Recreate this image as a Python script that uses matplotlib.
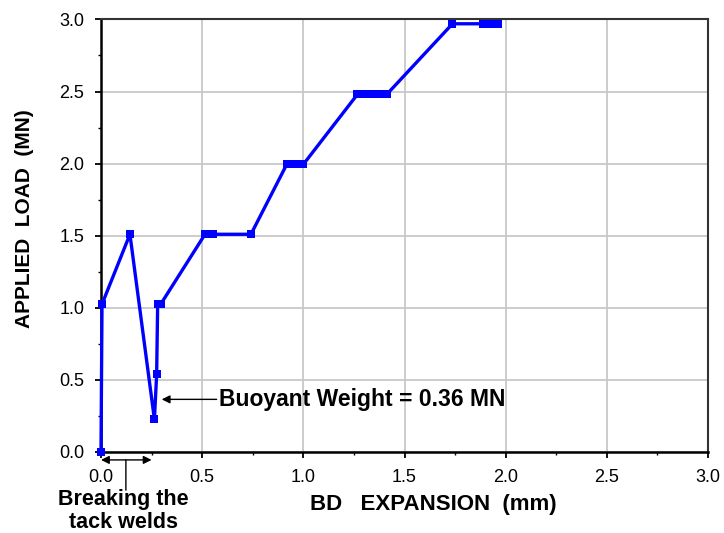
import matplotlib.pyplot as plt
from matplotlib.ticker import MultipleLocator

# BD expansion (mm) vs applied load (MN)
expansion = [0.0, 0.005, 0.143, 0.264, 0.275, 0.28, 0.295,
             0.514, 0.535, 0.555, 0.741,
             0.918, 0.945, 0.97, 1.0,
             1.267, 1.30, 1.33, 1.36, 1.39, 1.412,
             1.737, 1.89, 1.92, 1.964]
load = [0.0, 1.025, 1.51, 0.226, 0.538, 1.025, 1.025,
        1.51, 1.51, 1.51, 1.51,
        1.995, 1.995, 1.995, 1.995,
        2.48, 2.48, 2.48, 2.48, 2.48, 2.48,
        2.97, 2.97, 2.97, 2.97]

plt.rcParams['font.family'] = ['Liberation Sans', 'DejaVu Sans']

fig = plt.figure(figsize=(7.24, 5.33), dpi=100)
ax = fig.add_axes([0.1395, 0.152, 0.8385, 0.8115])

ax.plot(expansion, load, color='#0000FF', lw=2.4, marker='s', ms=6,
        markeredgewidth=0, clip_on=False, zorder=3)

ax.set_xlim(0, 3.0)
ax.set_ylim(0, 3.0)
ax.xaxis.set_major_locator(MultipleLocator(0.5))
ax.yaxis.set_major_locator(MultipleLocator(0.5))
ax.xaxis.set_minor_locator(MultipleLocator(0.25))
ax.yaxis.set_minor_locator(MultipleLocator(0.25))
ax.xaxis.set_major_formatter(plt.FormatStrFormatter('%.1f'))
ax.yaxis.set_major_formatter(plt.FormatStrFormatter('%.1f'))
ax.grid(True, which='major', color='#c8c8c8', lw=1.3)
ax.set_axisbelow(True)
ax.tick_params(which='major', direction='out', length=4, width=1.3, labelsize=13, pad=8)
ax.tick_params(which='minor', direction='out', length=2.5, width=1.0)

for s in ['left', 'bottom']:
    ax.spines[s].set_linewidth(1.8)
    ax.spines[s].set_color('black')
for s in ['top', 'right']:
    ax.spines[s].set_linewidth(1.5)
    ax.spines[s].set_color('#333333')

ax.set_xlabel('BD   EXPANSION  (mm)', fontsize=16, fontweight='bold')
ax.set_ylabel('APPLIED  LOAD  (MN)', fontsize=15, fontweight='bold')
ax.xaxis.set_label_coords(0.547, -0.097)
ax.yaxis.set_label_coords(-0.110, 0.54)

# buoyant weight note
ax.annotate('Buoyant Weight = 0.36 MN', xy=(0.30, 0.365), xytext=(0.585, 0.365),
            fontsize=16.5, fontweight='bold', va='center', ha='left',
            arrowprops=dict(arrowstyle='-|>', color='black', lw=1.0,
                            mutation_scale=12, shrinkA=0, shrinkB=0))

# tack welds note, below the axis
ax.annotate('', xy=(0.0, -0.055), xytext=(0.25, -0.055), annotation_clip=False,
            arrowprops=dict(arrowstyle='<|-|>', color='black', lw=1.0,
                            mutation_scale=12, shrinkA=0, shrinkB=0))
ax.annotate('', xy=(0.123, -0.055), xytext=(0.123, -0.265), annotation_clip=False,
            arrowprops=dict(arrowstyle='-', color='black', lw=1.0, shrinkA=0, shrinkB=0))
ax.text(0.11, -0.26, 'Breaking the\ntack welds', fontsize=15.5, fontweight='bold',
        ha='center', va='top', linespacing=1.12, clip_on=False)

fig.savefig('out.png', dpi=100)
